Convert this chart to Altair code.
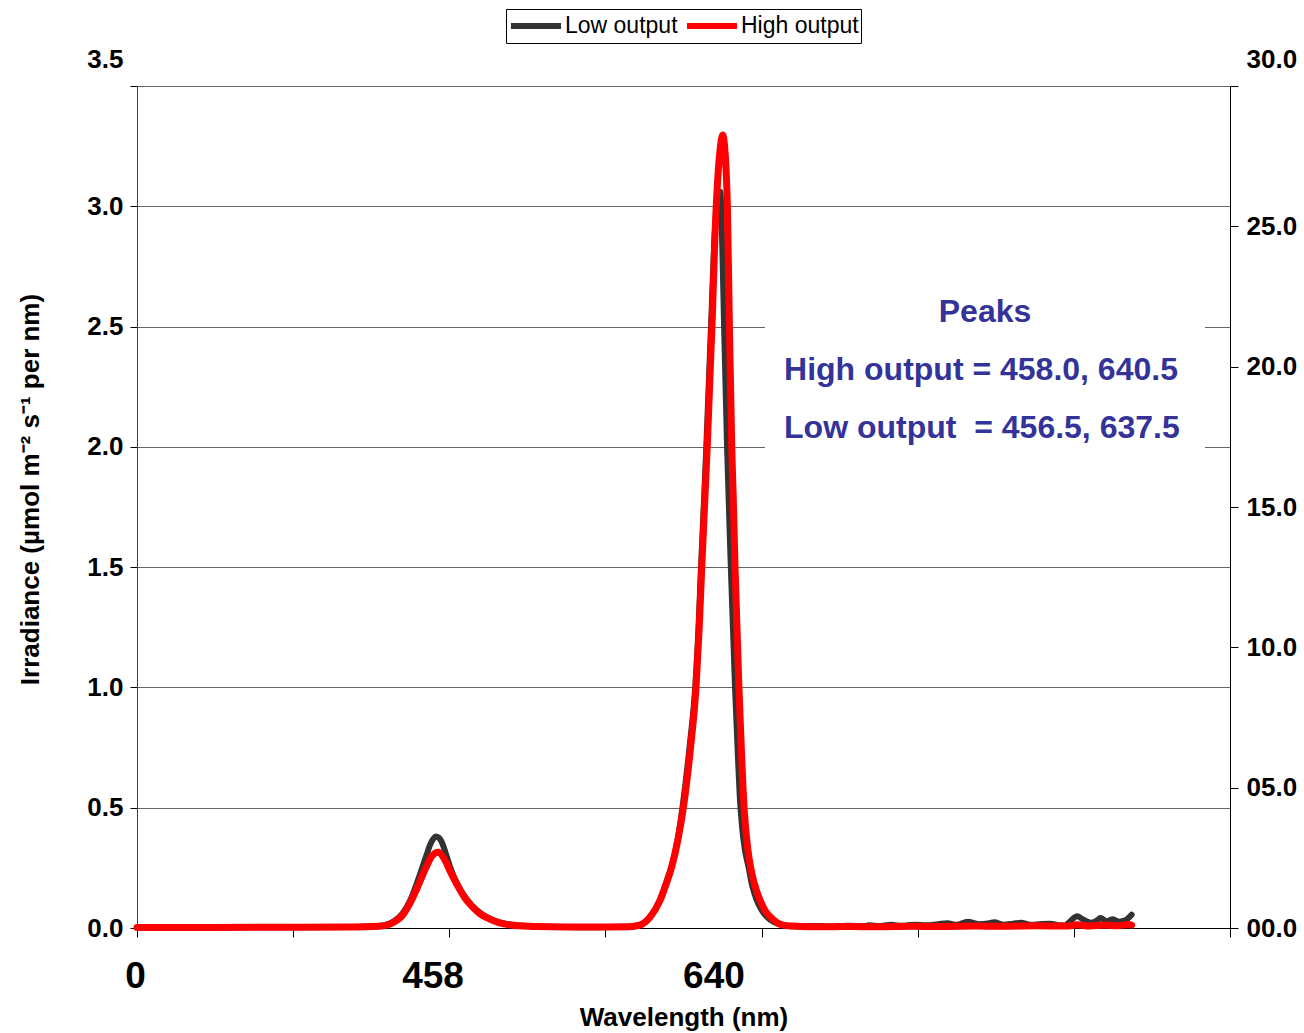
import altair as alt
import pandas as pd

FONT = "Liberation Sans"
TEXT_BLUE = "#333399"

# ---- data (wavelength in nm, irradiance) ----
low_nm = [265, 300, 350, 400, 420, 430, 435, 440, 445, 450, 453, 456.5, 460, 463, 466, 470, 475, 480, 485, 490,
          495, 500, 510, 520, 540, 560, 580, 587, 593.5, 600, 604, 607.5, 611.5, 614.5, 619, 622.5, 624.5, 626.2, 628.3, 629.6,
          631.4, 632.9, 634.7, 636.6, 638.6, 639.6, 641, 642.9, 645.3, 648, 649.6, 651, 652.5, 654.2, 656.6, 659, 661.9, 665, 668.3, 673,
          678, 685, 690, 700, 710, 720, 730, 734, 740, 748, 755, 763, 770, 778, 784, 790, 797, 804, 810, 814,
          820, 826, 831, 838, 844, 850, 855, 859, 863, 867, 871, 876, 880, 882, 886, 890, 894, 898, 902]
low_val = [0.002, 0.002, 0.003, 0.004, 0.008, 0.03, 0.06, 0.115, 0.2, 0.295, 0.35, 0.38, 0.36, 0.305, 0.245, 0.185, 0.13, 0.09, 0.062, 0.042,
           0.028, 0.019, 0.01, 0.006, 0.004, 0.003, 0.005, 0.012, 0.045, 0.118, 0.19, 0.26, 0.375, 0.51, 0.76, 1.0, 1.23, 1.5, 1.8, 2.0,
           2.3, 2.55, 2.85, 3.02, 3.06, 2.9, 2.5, 2.0, 1.5, 1.0, 0.75, 0.55, 0.42, 0.33, 0.255, 0.175, 0.116, 0.075, 0.047, 0.024,
           0.012, 0.007, 0.006, 0.008, 0.006, 0.009, 0.007, 0.011, 0.008, 0.013, 0.009, 0.014, 0.011, 0.016, 0.02, 0.013, 0.026, 0.016, 0.019, 0.024,
           0.014, 0.018, 0.022, 0.013, 0.017, 0.018, 0.012, 0.01, 0.03, 0.049, 0.035, 0.022, 0.032, 0.042, 0.028, 0.036, 0.026, 0.032, 0.055]

high_nm = [265, 300, 350, 400, 420, 430, 435, 440, 445, 450, 454, 458, 462, 466, 470, 475, 480, 485, 490, 495,
           500, 510, 520, 540, 560, 580, 587, 593.5, 600, 604, 607.5, 611.5, 614.9, 619.5, 623, 625, 626.7, 628.8, 630.2, 632,
           633.5, 635.3, 636.8, 638.5, 640.1, 641.3, 642.3, 643.1, 644.4, 645.9, 646.9, 648, 650.5, 652, 653.8, 655.3, 657, 659, 661.5, 664,
           667, 670.4, 675, 679, 685, 690, 700, 720, 740, 760, 780, 800, 820, 840, 860, 867, 875, 885, 893, 900, 902]
high_val = [0.002, 0.002, 0.003, 0.004, 0.007, 0.026, 0.052, 0.105, 0.175, 0.25, 0.3, 0.315, 0.285, 0.23, 0.18, 0.125, 0.087, 0.058, 0.04, 0.026,
            0.017, 0.009, 0.006, 0.004, 0.004, 0.005, 0.012, 0.045, 0.115, 0.185, 0.255, 0.37, 0.5, 0.75, 1.0, 1.24, 1.5, 1.8, 2.0, 2.3,
            2.55, 2.9, 3.1, 3.24, 3.296, 3.25, 3.15, 3.0, 2.5, 2.0, 1.78, 1.5, 1.0, 0.75, 0.5, 0.38, 0.29, 0.22, 0.16, 0.116,
            0.075, 0.047, 0.022, 0.012, 0.008, 0.006, 0.005, 0.006, 0.005, 0.007, 0.006, 0.008, 0.007, 0.009, 0.008, 0.013, 0.008, 0.012, 0.009, 0.015, 0.012]

series_names = ["Low output", "High output"]
series_colors = ["#333333", "#ff0000"]

x_tick_values = [265, 365, 465, 565, 665, 765, 865, 965]
x_label_nm = [264, 454.6, 634.5]
x_label_text = ["0", "458", "640"]

left_ticks = [0, 0.5, 1.0, 1.5, 2.0, 2.5, 3.0, 3.5]
right_ticks = [0, 5, 10, 15, 20, 25, 30]

peaks_title = "Peaks"
peaks_high = "High output = 458.0, 640.5"
peaks_low = "Low output\u00a0 = 456.5, 637.5"

low_df = pd.DataFrame({"nm": low_nm, "irr": low_val, "series": series_names[0]})
high_df = pd.DataFrame({"nm": high_nm, "irr": high_val, "series": series_names[1]})
xlab_df = pd.DataFrame({"nm": x_label_nm, "label": x_label_text})
right_df = pd.DataFrame({"r": right_ticks})

xs = alt.Scale(domain=[265, 965], nice=False, zero=False)
ys = alt.Scale(domain=[0, 3.5], nice=False, zero=True)

x_axis = alt.Axis(values=x_tick_values, labels=False, grid=False, tickSize=9, tickColor="black",
                  domainColor="black", title="Wavelength (nm)", titleFont=FONT, titleFontSize=26,
                  titleFontWeight="bold", titleColor="black", titleY=97, titleBaseline="alphabetic")

y_axis = alt.Axis(values=left_ticks, format=".1f", grid=True, gridColor="#666666", gridWidth=1,
                  tickSize=7, tickColor="black", domainColor="#404040",
                  labelFont=FONT, labelFontSize=26, labelFontWeight="bold", labelColor="black",
                  labelPadding=7,
                  labelOffset={"condition": {"test": "datum.value == 3.5", "value": -27}, "value": 0},
                  title="Irradiance (µmol m⁻² s⁻¹ per nm)", titleFont=FONT, titleFontSize=26,
                  titleFontWeight="bold", titleColor="black", titleAngle=270, titleX=-99, titleY=403,
                  titleBaseline="alphabetic")

color_enc = alt.Color("series:N", scale=alt.Scale(domain=series_names, range=series_colors),
                      legend=alt.Legend(orient="none", legendX=369, legendY=-77, direction="horizontal",
                                        title=None, symbolType="stroke", symbolSize=2500, symbolStrokeWidth=6,
                                        clipHeight=30, padding=2, labelOffset=1, columnPadding=6,
                                        labelFont=FONT, labelFontSize=23, labelColor="black",
                                        strokeColor="black", fillColor="white"))

def X(field):
    return alt.X(field, type="quantitative", scale=xs, axis=x_axis)

def Y(field):
    return alt.Y(field, type="quantitative", scale=ys, axis=y_axis)

def XD(v):
    return alt.XDatum(v, type="quantitative", scale=xs, axis=x_axis)

def YD(v):
    return alt.YDatum(v, type="quantitative", scale=ys, axis=y_axis)

bg = alt.Chart(low_df).mark_rect(fill="white", stroke=None).encode(
    x=XD(667.2), x2=alt.X2Datum(949), y=YD(1.97), y2=alt.Y2Datum(2.72)
).transform_filter("datum.nm == 265")

low_line = alt.Chart(low_df).mark_line(strokeWidth=6, interpolate="monotone", strokeJoin="round",
                                        strokeCap="round").encode(x=X("nm"), y=Y("irr"), color=color_enc)
high_line = alt.Chart(high_df).mark_line(strokeWidth=7, interpolate="monotone", strokeJoin="round",
                                          strokeCap="round").encode(x=X("nm"), y=Y("irr"), color=color_enc)

xlabels = alt.Chart(xlab_df).mark_text(font=FONT, fontSize=37, fontWeight="bold", color="black",
                                       align="center", baseline="alphabetic").encode(
    x=X("nm"), y=YD(-0.25), text="label:N")

def note(txt, xv, yv, align, size):
    return alt.Chart(xlab_df).mark_text(text=txt, font=FONT, fontSize=size, fontWeight="bold",
                                        color=TEXT_BLUE, align=align, baseline="middle").encode(
        x=XD(xv), y=YD(yv)).transform_filter("datum.label == '0'")

t1 = note(peaks_title, 808.1, 2.561, "center", 32)
t2 = note(peaks_high, 679.4, 2.319, "left", 32)
t3 = note(peaks_low, 679.4, 2.078, "left", 32)

left = alt.layer(bg, low_line, high_line, xlabels, t1, t2, t3)

right = alt.Chart(right_df).mark_tick(opacity=0).encode(
    y=alt.Y("r:Q", scale=alt.Scale(domain=[0, 30], nice=False),
            axis=alt.Axis(orient="right", values=right_ticks, format="04.1f", grid=False, tickSize=8,
                          tickColor="black", domainColor="black", labelFont=FONT, labelFontSize=26,
                          labelFontWeight="bold", labelColor="black", labelPadding=8,
                          labelOffset={"condition": {"test": "datum.value == 30", "value": -27}, "value": 0},
                          title=None))
)

chart = alt.layer(left, right).resolve_scale(y="independent").properties(
    width=1093, height=842,
    padding={"left": 137, "top": 86, "right": 74, "bottom": 105},
    autosize=alt.AutoSizeParams(type="none"),
    background="white",
).configure_view(stroke=None)

chart.save("out.html", embed_options={"renderer": "svg", "actions": False})
